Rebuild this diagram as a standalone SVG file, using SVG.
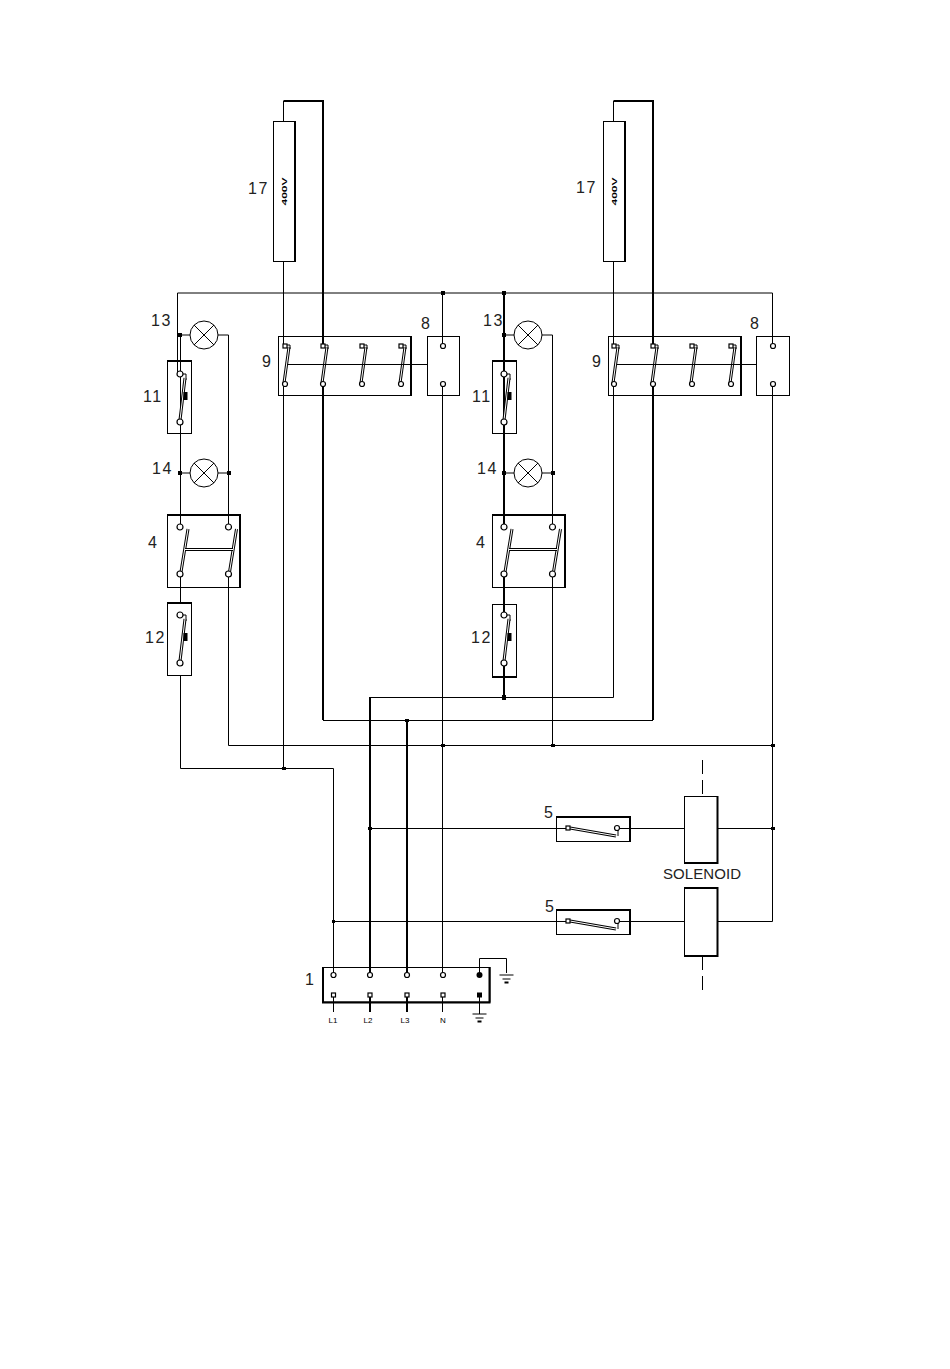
<svg xmlns="http://www.w3.org/2000/svg" xmlns:xlink="http://www.w3.org/1999/xlink" width="950" height="1369" viewBox="0 0 950 1369">
<style>
.w{fill:none;stroke:#000;stroke-width:1}
.t{fill:none;stroke:#000;stroke-width:2}
.b{fill:none;stroke:#000;stroke-width:1}
.p{fill:#fff;stroke:#000;stroke-width:1}
.e{fill:none;stroke:#000;stroke-width:2}
.c{fill:#fff;stroke:#000;stroke-width:1.2}
.j{fill:#000}
.o{stroke:#000;stroke-width:3;fill:none}
.i{stroke:#fff;stroke-width:1;fill:none}
.l{font-family:"Liberation Sans",Arial,sans-serif;font-size:16px;fill:#222;letter-spacing:1.5px}
.s{font-family:"Liberation Sans",Arial,sans-serif;font-size:15px;fill:#222}
.v{font-family:"Liberation Sans",Arial,sans-serif;font-size:7px;font-weight:bold;fill:#000}
.m{font-family:"Liberation Sans",Arial,sans-serif;font-size:8px;fill:#000}
</style>
<defs>
<g id="pole9"><line class="o" x1="4" y1="1" x2="-1" y2="37"/><line class="i" x1="4" y1="1" x2="-1" y2="37"/><rect class="c" x="-2" y="-2" width="4" height="4"/><path class="w" d="M2 -1H5V3"/><circle class="c" cx="0" cy="38" r="2.5"/></g>
<g id="pole4"><line class="o" x1="8" y1="2" x2="1" y2="45"/><line class="i" x1="8" y1="2" x2="1" y2="45"/><circle class="c" cx="0" cy="0" r="3"/><circle class="c" cx="0" cy="47" r="3"/></g>
<g id="lim"><path class="w" d="M2 0H6V6"/><line class="o" x1="5" y1="4" x2="0" y2="46"/><line class="i" x1="5" y1="4" x2="0" y2="46"/><rect class="j" x="3.500" y="18" width="4" height="8"/><circle class="c" cx="0" cy="0" r="3"/><circle class="c" cx="0" cy="48" r="3"/></g>
<g id="sw5"><line class="o" x1="2" y1="0" x2="48" y2="8"/><line class="i" x1="2" y1="0" x2="48" y2="8"/><rect class="c" x="-2" y="-2" width="4" height="4"/><circle class="c" cx="49" cy="0" r="2.500"/><path class="w" d="M50 2V8"/></g>
<g id="lamp"><circle class="p" cx="0" cy="0" r="14"/><path class="w" d="M-10 -10L10 10M-10 10L10 -10"/></g>
<g id="gnd"><path class="w" d="M-7 0H7M-4 4H4"/><path class="t" d="M-2 7.500H2"/></g>
</defs>

<g id="connectors">
<path class="t" d="M283.500 101H323V346M323 384V720M613.500 101H653V346M653 384V720"/>
<path class="w" d="M323 720.500H653"/>
<path class="w" d="M283.500 101V121M283.500 261V346M283.500 384V768M613.500 101V121M613.500 261V346M613.500 384V697.500H370"/>
<path class="w" d="M177.500 293H772.500M177.500 293V374M180.500 335V527M180.500 574V603M180.500 675V768.500H333.500V975"/>
<path class="w" d="M180 335H228.500V527M228.500 574V745.500H772.500M180 473H229"/>
<path class="w" d="M442.500 293V346M442.500 384V975M772.500 293V346M772.500 384V921.500H718"/>
<path class="t" d="M504 293V527M504 574V615M504 663V698"/>
<path class="w" d="M504 335H552.500V527M552.500 574V745.500M504 473H552.500"/>
<path class="t" d="M370 697V975M407 720V975"/>
<path class="w" d="M370 828.500H568M617 828.500H684M718 828.500H772.500M333.500 921.500H568M617 921.500H684"/>
<path class="w" stroke-dasharray="14 6" d="M702.500 760V796M702.500 956V992"/>
<path class="w" d="M479.500 975V958.500H506.500V973M479.500 995V1014"/>
<path class="w" d="M333.500 995V1012M442.500 995V1012"/>
<path class="t" d="M370 995V1012M407 995V1012"/>
<path class="j" d="M178 333h4v4h-4zM178 471h4v4h-4zM227 471h4v4h-4zM441 291h4v4h-4zM502 291h4v4h-4zM502 333h4v4h-4zM502 471h4v4h-4zM551 471h4v4h-4zM502 695h4v5h-4zM282 767h4v3h-4zM441 744h4v3h-4zM551 744h4v3h-4zM771 744h4v3h-4zM368 827h4v3h-4zM771 827h4v3h-4zM332 920h3v3h-3zM405 719h4v3h-4z"/>
</g>

<g id="fuse17a"><rect class="b" x="273.500" y="121.500" width="22" height="140"/><path class="e" d="M295 121V262"/><text class="v" transform="translate(287 205.500) rotate(-90)" textLength="28" lengthAdjust="spacingAndGlyphs">400V</text><text class="l" x="248" y="194">17</text></g>
<g id="fuse17b"><rect class="b" x="603.500" y="121.500" width="22" height="140"/><path class="e" d="M625 121V262"/><text class="v" transform="translate(617 205.500) rotate(-90)" textLength="28" lengthAdjust="spacingAndGlyphs">400V</text><text class="l" x="576" y="193">17</text></g>

<g id="lamp13a"><use href="#lamp" x="204" y="335"/><text class="l" x="151" y="326">13</text></g>
<g id="lamp14a"><use href="#lamp" x="204" y="473"/><text class="l" x="152" y="474">14</text></g>
<g id="lamp13b"><use href="#lamp" x="528" y="335"/><text class="l" x="483" y="326">13</text></g>
<g id="lamp14b"><use href="#lamp" x="528" y="473"/><text class="l" x="477" y="474">14</text></g>

<g id="switch11a"><rect class="b" x="167.500" y="361.500" width="24" height="72"/><path class="e" d="M167 361H192"/><use href="#lim" x="180" y="374"/><text class="l" x="143" y="402">11</text></g>
<g id="switch12a"><rect class="b" x="167.500" y="603.500" width="24" height="72"/><path class="e" d="M167 603H192"/><use href="#lim" x="180" y="615"/><text class="l" x="145" y="643">12</text></g>
<g id="switch11b"><rect class="b" x="492.500" y="361.500" width="24" height="72"/><path class="e" d="M492 361H517"/><use href="#lim" x="504" y="374"/><text class="l" x="472" y="402">11</text></g>
<g id="switch12b"><rect class="b" x="492.500" y="604.500" width="24" height="72"/><path class="e" d="M492 677H517"/><use href="#lim" x="504" y="615"/><text class="l" x="471" y="643">12</text></g>

<g id="switch4a"><rect class="b" x="167.500" y="515.500" width="73" height="72"/><path class="e" d="M167 515H240V587"/><use href="#pole4" x="180" y="527"/><use href="#pole4" x="228.500" y="527"/><path class="o" d="M185 549.500H233"/><path class="i" d="M185 549.500H233"/><text class="l" x="148" y="548">4</text></g>
<g id="switch4b"><rect class="b" x="492.500" y="515.500" width="73" height="72"/><path class="e" d="M492 515H565V587"/><use href="#pole4" x="504" y="527"/><use href="#pole4" x="552.500" y="527"/><path class="o" d="M509 549.500H557"/><path class="i" d="M509 549.500H557"/><text class="l" x="476" y="548">4</text></g>

<g id="contactor9a"><rect class="b" x="278.500" y="336.500" width="133" height="59"/><path class="e" d="M411 336V396"/><use href="#pole9" x="285" y="346"/><use href="#pole9" x="323" y="346"/><use href="#pole9" x="362" y="346"/><use href="#pole9" x="401" y="346"/><path class="w" d="M287 364.500H427"/><text class="l" x="262" y="367">9</text></g>
<g id="contactor9b"><rect class="b" x="608.500" y="336.500" width="133" height="59"/><path class="e" d="M741 336V396"/><use href="#pole9" x="614" y="346"/><use href="#pole9" x="653" y="346"/><use href="#pole9" x="692" y="346"/><use href="#pole9" x="731" y="346"/><path class="w" d="M617 364.500H756"/><text class="l" x="592" y="367">9</text></g>

<g id="relay8a"><rect class="b" x="427.500" y="336.500" width="32" height="59"/><circle class="c" cx="443" cy="346" r="2.500"/><circle class="c" cx="443" cy="384" r="2.500"/><text class="l" x="421" y="329">8</text></g>
<g id="relay8b"><rect class="b" x="756.500" y="336.500" width="33" height="59"/><circle class="c" cx="773" cy="346" r="2.500"/><circle class="c" cx="773" cy="384" r="2.500"/><text class="l" x="750" y="329">8</text></g>

<g id="limit5a"><rect class="b" x="556.500" y="817.500" width="74" height="24"/><path class="e" d="M556 817H630V842"/><use href="#sw5" x="568" y="828"/><text class="l" x="544" y="818">5</text></g>
<g id="limit5b"><rect class="b" x="556.500" y="910.500" width="74" height="24"/><path class="e" d="M556 910H630V935"/><use href="#sw5" x="568" y="921"/><text class="l" x="545" y="912">5</text></g>

<g id="solenoidA"><rect class="b" x="684.500" y="796.500" width="33" height="66"/><path class="e" d="M717.500 796V863H684"/><text class="s" x="663" y="878.500" textLength="78">SOLENOID</text></g>
<g id="solenoidB"><rect class="b" x="684.500" y="888.500" width="33" height="67"/><path class="e" d="M684 888H717.500V956H684"/></g>

<g id="terminal1"><rect class="b" x="323" y="967.500" width="167" height="34.500"/><path class="e" d="M323 967V1002.500H489.500V967"/>
<circle class="c" cx="333.500" cy="975" r="2.500"/><circle class="c" cx="370" cy="975" r="2.500"/><circle class="c" cx="407" cy="975" r="2.500"/><circle class="c" cx="443" cy="975" r="2.500"/><circle class="j" cx="479.500" cy="975" r="3"/>
<rect class="c" x="331.500" y="993" width="4" height="4"/><rect class="c" x="368" y="993" width="4" height="4"/><rect class="c" x="405" y="993" width="4" height="4"/><rect class="c" x="441" y="993" width="4" height="4"/><rect class="j" x="477" y="992.500" width="5" height="5"/>
<text class="l" x="305" y="985">1</text>
<text class="m" x="333" y="1023" text-anchor="middle">L1</text><text class="m" x="368" y="1023" text-anchor="middle">L2</text><text class="m" x="405" y="1023" text-anchor="middle">L3</text><text class="m" x="443" y="1023" text-anchor="middle">N</text></g>
<g id="ground1"><use href="#gnd" x="506.500" y="975"/></g>
<g id="ground2"><use href="#gnd" x="479.500" y="1014"/></g>
</svg>
